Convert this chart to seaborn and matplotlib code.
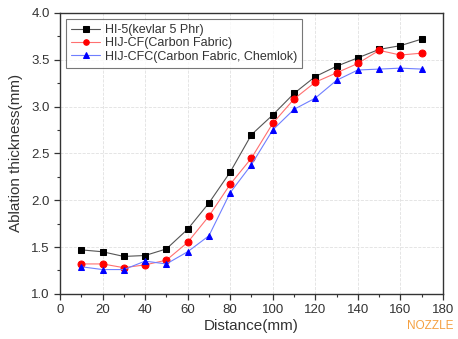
import pandas as pd
import numpy as np
import matplotlib
matplotlib.use('Agg')
import matplotlib.pyplot as plt
import seaborn as sns
from matplotlib.ticker import MultipleLocator

# Data
distance = [10, 20, 30, 40, 50, 60, 70, 80, 90, 100, 110, 120, 130, 140, 150, 160, 170]
hi5 = [1.47, 1.45, 1.40, 1.41, 1.48, 1.69, 1.97, 2.30, 2.70, 2.91, 3.14, 3.32, 3.43, 3.52, 3.61, 3.65, 3.72]
hij_cf = [1.32, 1.32, 1.28, 1.31, 1.36, 1.55, 1.83, 2.17, 2.45, 2.82, 3.08, 3.26, 3.36, 3.46, 3.60, 3.55, 3.57]
hij_cfc = [1.29, 1.26, 1.26, 1.35, 1.32, 1.45, 1.62, 2.08, 2.38, 2.75, 2.97, 3.09, 3.28, 3.39, 3.40, 3.41, 3.40]
labels = ['HI-5(kevlar 5 Phr)', 'HIJ-CF(Carbon Fabric)', 'HIJ-CFC(Carbon Fabric, Chemlok)']

df = pd.DataFrame({'Distance': distance * 3,
                   'Thickness': hi5 + hij_cf + hij_cfc,
                   'Sample': [labels[0]] * 17 + [labels[1]] * 17 + [labels[2]] * 17})

sns.set_style('ticks')
plt.rcParams['font.family'] = ['Liberation Sans', 'DejaVu Sans']

fig = plt.figure(figsize=(4.58, 3.39), dpi=100)
ax = fig.add_axes([0.131, 0.133, 0.836, 0.829])

line_colors = ['#555555', '#ff7070', '#6f7fff']
marker_colors = ['black', 'red', 'blue']
markers = ['s', 'o', '^']
for lab, lc, mc, mk in zip(labels, line_colors, marker_colors, markers):
    sub = df[df.Sample == lab]
    sns.lineplot(x='Distance', y='Thickness', data=sub, ax=ax, color=lc, lw=0.8,
                 marker=mk, markersize=5, markerfacecolor=mc, markeredgecolor=mc,
                 label=lab)

ax.set_xlim(0, 180)
ax.set_ylim(1.0, 4.0)
ax.xaxis.set_major_locator(MultipleLocator(20))
ax.xaxis.set_minor_locator(MultipleLocator(10))
ax.yaxis.set_major_locator(MultipleLocator(0.5))
ax.yaxis.set_minor_locator(MultipleLocator(0.25))
ax.grid(True, which='major', color='#e0e0e0', linestyle='--', lw=0.6)
ax.tick_params(which='major', direction='out', length=4, width=0.9, labelsize=9.5, colors='#333333')
ax.tick_params(which='minor', direction='out', length=2.5, width=0.8, colors='#333333')
for sp in ax.spines.values():
    sp.set_color('#333333')
    sp.set_linewidth(1.0)

ax.set_xlabel('Distance(mm)', fontsize=11, color='#333333', labelpad=2)
ax.set_ylabel('Ablation thickness(mm)', fontsize=11, color='#333333', labelpad=6)

leg = ax.legend(loc='upper left', fontsize=9, frameon=True, fancybox=False,
                edgecolor='#555555', handlelength=2.3, borderpad=0.4,
                labelspacing=0.1, handletextpad=0.4, borderaxespad=0.5,
                markerscale=0.8)
leg.get_frame().set_linewidth(0.8)
for t in leg.get_texts():
    t.set_color('#333333')

fig.text(0.99, 0.02, 'NOZZLE', color='#f5a040', fontsize=8.5, ha='right', va='bottom')

plt.savefig('out.png', dpi=100)
